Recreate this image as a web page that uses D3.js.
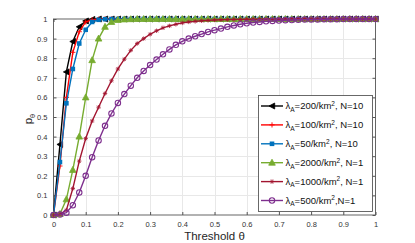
<!DOCTYPE html>
<html>
<head>
<meta charset="utf-8">
<script src="https://cdn.jsdelivr.net/npm/d3@7"></script>
<style>
  body { margin: 0; background: #fff; }
  svg { display: block; font-family: "Liberation Sans", Arial, sans-serif; }
</style>
</head>
<body>
<svg id="chart" width="415" height="243"></svg>
<script>
const theta = [0, 0.02, 0.04, 0.06, 0.08, 0.1, 0.12, 0.14, 0.16, 0.18,
  0.2, 0.22, 0.24, 0.26, 0.28, 0.3, 0.32, 0.34, 0.36, 0.38,
  0.4, 0.42, 0.44, 0.46, 0.48, 0.5, 0.52, 0.54, 0.56, 0.58,
  0.6, 0.62, 0.64, 0.66, 0.68, 0.7, 0.72, 0.74, 0.76, 0.78,
  0.8, 0.82, 0.84, 0.86, 0.88, 0.9, 0.92, 0.94, 0.96, 0.98, 1];

const p200N10 = [0, 0.36, 0.73, 0.885, 0.96, 0.99, 0.998, 1, 1, 1,
  1, 1, 1, 1, 1, 1, 1, 1, 1, 1, 1, 1, 1, 1, 1, 1, 1, 1, 1, 1,
  1, 1, 1, 1, 1, 1, 1, 1, 1, 1, 1, 1, 1, 1, 1, 1, 1, 1, 1, 1, 1];
const p100N10 = [0, 0.25, 0.6, 0.83, 0.935, 0.985, 0.996, 0.999, 1, 1,
  1, 1, 1, 1, 1, 1, 1, 1, 1, 1, 1, 1, 1, 1, 1, 1, 1, 1, 1, 1,
  1, 1, 1, 1, 1, 1, 1, 1, 1, 1, 1, 1, 1, 1, 1, 1, 1, 1, 1, 1, 1];
const p50N10 = [0, 0.27, 0.57, 0.745, 0.875, 0.945, 0.985, 0.996, 0.999, 1,
  1, 1, 1, 1, 1, 1, 1, 1, 1, 1, 1, 1, 1, 1, 1, 1, 1, 1, 1, 1,
  1, 1, 1, 1, 1, 1, 1, 1, 1, 1, 1, 1, 1, 1, 1, 1, 1, 1, 1, 1, 1];
const p2000N1 = [0, 0.005, 0.08, 0.23, 0.4, 0.6, 0.79, 0.9, 0.96, 0.985,
  0.995, 0.998, 0.999, 1, 1, 1, 1, 1, 1, 1, 1, 1, 1, 1, 1, 1, 1, 1, 1, 1,
  1, 1, 1, 1, 1, 1, 1, 1, 1, 1, 1, 1, 1, 1, 1, 1, 1, 1, 1, 1, 1];
const p1000N1 = [0, 0.003, 0.025, 0.135, 0.275, 0.39, 0.48, 0.55, 0.62, 0.685,
  0.745, 0.795, 0.84, 0.875, 0.9, 0.922, 0.94, 0.955, 0.965, 0.973,
  0.98, 0.985, 0.988, 0.991, 0.993, 0.995, 0.996, 0.997, 0.998, 0.998,
  0.999, 0.999, 0.999, 1, 1, 1, 1, 1, 1, 1, 1, 1, 1, 1, 1, 1, 1, 1, 1, 1, 1];
const p500N1 = [0, 0.002, 0.012, 0.05, 0.115, 0.2, 0.295, 0.38, 0.455, 0.518,
  0.572, 0.617, 0.66, 0.7, 0.735, 0.765, 0.793, 0.82, 0.845, 0.868,
  0.886, 0.9, 0.912, 0.923, 0.934, 0.943, 0.951, 0.96, 0.967, 0.973,
  0.978, 0.982, 0.985, 0.988, 0.99, 0.992, 0.994, 0.995, 0.996, 0.997,
  0.998, 0.998, 0.999, 0.999, 0.999, 1, 1, 1, 1, 1, 1];

const xTicks = [0, 0.1, 0.2, 0.3, 0.4, 0.5, 0.6, 0.7, 0.8, 0.9, 1];
const yTicks = [0, 0.1, 0.2, 0.3, 0.4, 0.5, 0.6, 0.7, 0.8, 0.9, 1];

const seriesList = [
  { lambda: "200", tail: ", N=10", values: p200N10, color: "#000000", marker: "triLeft" },
  { lambda: "100", tail: ", N=10", values: p100N10, color: "#ff0000", marker: "plus" },
  { lambda: "50", tail: ", N=10", values: p50N10, color: "#0072bd", marker: "square" },
  { lambda: "2000", tail: ", N=1", values: p2000N1, color: "#77ac30", marker: "triUp" },
  { lambda: "1000", tail: ", N=1", values: p1000N1, color: "#a2142f", marker: "star" },
  { lambda: "500", tail: ",N=1", values: p500N1, color: "#7e2f8e", marker: "circle" }
];

const svg = d3.select("#chart");
const plot = { left: 53.5, right: 375.5, top: 19, bottom: 215 };

const x = d3.scaleLinear().domain([0, 1]).range([plot.left, plot.right]);
const y = d3.scaleLinear().domain([0, 1]).range([plot.bottom, plot.top]);

// grid
const grid = svg.append("g").attr("class", "grid");
grid.selectAll("line.gx")
  .data(xTicks.slice(1, -1))
  .join("line")
  .attr("x1", (d) => Math.round(x(d)) + 0.5)
  .attr("x2", (d) => Math.round(x(d)) + 0.5)
  .attr("y1", plot.top)
  .attr("y2", plot.bottom)
  .attr("stroke", "#e8e8e8");
grid.selectAll("line.gy")
  .data(yTicks.slice(1, -1))
  .join("line")
  .attr("x1", plot.left)
  .attr("x2", plot.right)
  .attr("y1", (d) => Math.round(y(d)) + 0.5)
  .attr("y2", (d) => Math.round(y(d)) + 0.5)
  .attr("stroke", "#e8e8e8");

// axes with inward ticks on all four sides
const fmt = (d) => String(d);
function styleAxis(g) {
  g.select(".domain").remove();
  g.selectAll(".tick line").attr("stroke", "#555");
  g.selectAll(".tick text").attr("fill", "#333").attr("font-size", "7.5px").attr("font-family", "Liberation Sans, Arial, sans-serif");
}
svg.append("g")
  .attr("transform", `translate(0,${plot.bottom})`)
  .call(d3.axisBottom(x).tickValues(xTicks).tickFormat(fmt).tickSizeInner(-3).tickSizeOuter(0).tickPadding(7))
  .call(styleAxis);
svg.append("g")
  .attr("transform", `translate(0,${plot.top})`)
  .call(d3.axisTop(x).tickValues(xTicks).tickFormat("").tickSizeInner(-3).tickSizeOuter(0))
  .call(styleAxis);
svg.append("g")
  .attr("transform", `translate(${plot.left},0)`)
  .call(d3.axisLeft(y).tickValues(yTicks).tickFormat(fmt).tickSizeInner(-3).tickSizeOuter(0).tickPadding(6))
  .call(styleAxis);
svg.append("g")
  .attr("transform", `translate(${plot.right},0)`)
  .call(d3.axisRight(y).tickValues(yTicks).tickFormat("").tickSizeInner(-3).tickSizeOuter(0))
  .call(styleAxis);

svg.append("rect")
  .attr("x", plot.left)
  .attr("y", plot.top)
  .attr("width", plot.right - plot.left)
  .attr("height", plot.bottom - plot.top)
  .attr("fill", "none")
  .attr("stroke", "#555")
  .attr("stroke-width", 0.9);

// markers
function drawMarker(g, type, color) {
  const s = 3;
  if (type === "triLeft") {
    g.append("path").attr("d", `M${-s},0L${s * 0.9},${-s}L${s * 0.9},${s}Z`).attr("fill", color).attr("stroke", color).attr("stroke-width", 0.8);
  } else if (type === "plus") {
    g.append("path").attr("d", "M-2.6,0H2.6M0,-2.6V2.6").attr("stroke", color).attr("stroke-width", 0.9);
  } else if (type === "square") {
    g.append("rect").attr("x", -2.3).attr("y", -2.3).attr("width", 4.6).attr("height", 4.6).attr("fill", color);
  } else if (type === "triUp") {
    g.append("path").attr("d", `M0,${-s - 0.5}L${s + 0.3},${s - 0.5}L${-s - 0.3},${s - 0.5}Z`).attr("fill", color).attr("stroke", color).attr("stroke-width", 0.8);
  } else if (type === "star") {
    g.append("path").attr("d", "M-2.2,0H2.2M0,-2.2V2.2M-1.6,-1.6L1.6,1.6M-1.6,1.6L1.6,-1.6").attr("stroke", color).attr("stroke-width", 0.8);
  } else if (type === "circle") {
    g.append("circle").attr("r", 2.7).attr("fill", "none").attr("stroke", color).attr("stroke-width", 1.1);
  }
}

const line = d3.line().x((d) => x(d[0])).y((d) => y(d[1]));
const seriesLayer = svg.append("g").attr("class", "series");
seriesList.forEach((s) => {
  const pts = theta.map((t, i) => [t, s.values[i]]);
  const g = seriesLayer.append("g");
  g.append("path")
    .attr("d", line(pts))
    .attr("fill", "none")
    .attr("stroke", s.color)
    .attr("stroke-width", 1.4);
  g.selectAll("g.mk")
    .data(pts)
    .join("g")
    .attr("class", "mk")
    .attr("transform", (d) => `translate(${x(d[0])},${y(d[1])})`)
    .each(function () { drawMarker(d3.select(this), s.marker, s.color); });
});

// axis labels
svg.append("text")
  .attr("x", (plot.left + plot.right) / 2)
  .attr("y", 240)
  .attr("text-anchor", "middle")
  .attr("font-size", "11.5px")
  .attr("fill", "#262626")
  .text("Threshold θ");

const yl = svg.append("text")
  .attr("transform", "translate(32,119) rotate(-90)")
  .attr("text-anchor", "middle")
  .attr("font-size", "11.5px")
  .attr("fill", "#262626");
yl.append("tspan").text("p");
yl.append("tspan").attr("font-size", "7.5px").attr("dy", 3).text("θ");

// legend
const legend = svg.append("g").attr("class", "legend");
legend.append("rect")
  .attr("x", 258.5)
  .attr("y", 95.5)
  .attr("width", 114)
  .attr("height", 116)
  .attr("fill", "#fff")
  .attr("stroke", "#444")
  .attr("stroke-width", 0.8);

const rowY = d3.scaleLinear().domain([0, seriesList.length - 1]).range([106, 200.5]);
seriesList.forEach((s, i) => {
  const g = legend.append("g").attr("transform", `translate(0,${rowY(i)})`);
  g.append("line").attr("x1", 261).attr("x2", 283).attr("y1", 0).attr("y2", 0)
    .attr("stroke", s.color).attr("stroke-width", 1.4);
  drawMarker(g.append("g").attr("transform", "translate(272,0)"), s.marker, s.color);
  const t = g.append("text").attr("x", 285.5).attr("y", 3.3).attr("font-size", "9.5px").attr("fill", "#111");
  t.append("tspan").text("λ");
  t.append("tspan").attr("font-size", "6.5px").attr("dy", 2.5).text("A");
  t.append("tspan").attr("dy", -2.5).text(`=${s.lambda}/km`);
  t.append("tspan").attr("font-size", "6.5px").attr("dy", -3.5).text("2");
  t.append("tspan").attr("dy", 3.5).text(s.tail);
});
</script>
</body>
</html>
